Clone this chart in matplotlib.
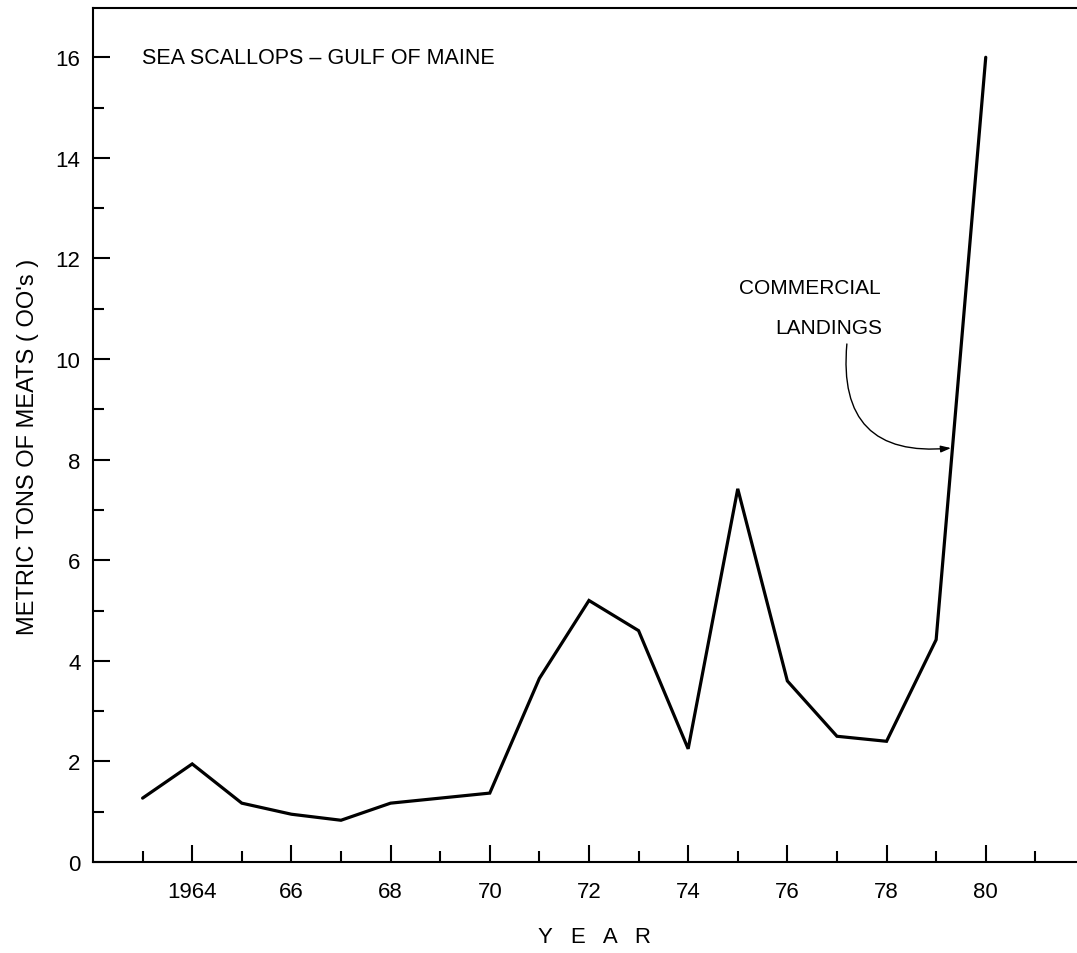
import matplotlib
matplotlib.use("Agg")
import matplotlib.pyplot as plt

years = [1963, 1964, 1965, 1966, 1967, 1968, 1969, 1970, 1971, 1972,
         1973, 1974, 1975, 1976, 1977, 1978, 1979, 1980]
landings = [1.27, 1.95, 1.17, 0.95, 0.83, 1.17, 1.27, 1.37, 3.65, 5.2,
            4.6, 2.25, 7.42, 3.6, 2.5, 2.4, 4.42, 16.0]

x_major = [1964, 1966, 1968, 1970, 1972, 1974, 1976, 1978, 1980]
x_labels = ["1964", "66", "68", "70", "72", "74", "76", "78", "80"]
x_minor = [1963, 1965, 1967, 1969, 1971, 1973, 1975, 1977, 1979, 1981]
y_major = [0, 2, 4, 6, 8, 10, 12, 14, 16]
y_minor = [1, 3, 5, 7, 9, 11, 13, 15]

title = "SEA SCALLOPS \u2013 GULF OF MAINE"
ylabel = "METRIC TONS OF MEATS ( OO's )"
xlabel = "Y   E   A   R"

plt.rcParams["font.family"] = ["Liberation Sans", "DejaVu Sans"]

W, H = 1077, 954
fig = plt.figure(figsize=(W / 100, H / 100), dpi=100)
ax = fig.add_axes([93 / W, (H - 863) / H, (W - 93) / W, (863 - 9) / H])
ax.set_xlim(1962, 1981.84)
ax.set_ylim(0, 16.98)

ax.plot(years, landings, color="black", lw=2.3, solid_joinstyle="miter",
        solid_capstyle="round")

ax.set_xticks(x_major)
ax.set_xticklabels(x_labels)
ax.set_xticks(x_minor, minor=True)
ax.set_yticks(y_major)
ax.set_yticks(y_minor, minor=True)
ax.tick_params(which="major", direction="in", length=12, width=1.5,
               labelsize=16, color="black")
ax.tick_params(which="minor", direction="in", length=8, width=1.5)
ax.tick_params(axis="x", which="major", pad=14)
ax.tick_params(axis="y", which="major", pad=9)

for s in ["left", "bottom", "top"]:
    ax.spines[s].set_linewidth(1.5)
ax.spines["right"].set_visible(False)

fig.text(28 / W, 1 - 447 / H, ylabel, rotation=90, ha="center", va="center",
         fontsize=17)
fig.text(594 / W, 1 - 938 / H, xlabel, ha="center", va="center", fontsize=16)

ax.text(1962.99, 16.0, title, ha="left", va="center", fontsize=15.5)

ax.text(1976.46, 11.43, "COMMERCIAL", ha="center", va="center", fontsize=15)
ax.text(1977.91, 10.62, "LANDINGS", ha="right", va="center", fontsize=15)
ax.annotate("", xy=(1979.3, 8.23), xytext=(1977.20, 10.30),
            arrowprops=dict(arrowstyle="-|>,head_length=0.6,head_width=0.2",
                            color="black", lw=1.0, shrinkA=0, shrinkB=0,
                            connectionstyle="arc3,rad=0.6"))

fig.savefig("out.png", dpi=100)
